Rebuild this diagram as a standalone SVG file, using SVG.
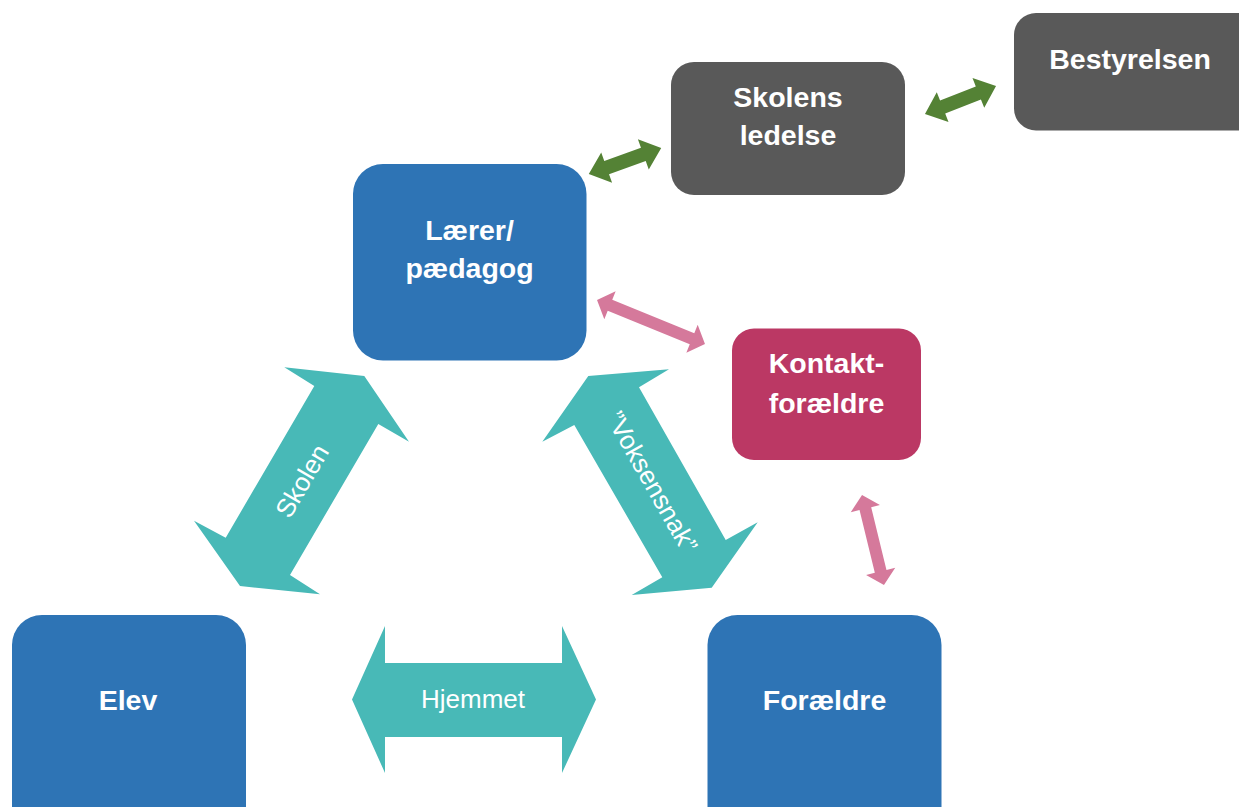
<svg xmlns="http://www.w3.org/2000/svg" width="1239" height="807" viewBox="0 0 1239 807">
<style>
.blue{fill:#2E74B5}
.gray{fill:#595959}
.mag{fill:#BB3864}
.teal{fill:#48B9B7}
.green{fill:#548235}
.pink{fill:#D5799B}
.lbl{font-family:"Liberation Sans",Arial,sans-serif;font-weight:bold;font-size:28.5px;fill:#FFFFFF;text-anchor:middle}
.al{font-family:"Liberation Sans",Arial,sans-serif;font-size:26px;fill:#FFFFFF;text-anchor:middle}
</style>
<rect width="1239" height="807" fill="#FFFFFF"/>
<g id="connectors">
  <g id="c-skolen">
    <polygon class="teal" points="284.3,367.3 364.3,376 409,441.7 378.3,424 290,575 320,594.3 240,586 194,520.7 225.7,537.7 314.3,386"/>
    <text class="al" transform="translate(302,481) rotate(-59.7)" y="9">Skolen</text>
  </g>
  <g id="c-voksensnak">
    <polygon class="teal" points="588.3,376 669,369.3 639,387.3 725.7,540 757.7,522.3 711.7,587.7 631.7,595 662.3,577.3 574.3,425 542.3,441.7"/>
    <text class="al" transform="translate(652,482) rotate(60.4)" y="9">”Voksensnak”</text>
  </g>
  <g id="c-hjemmet">
    <polygon class="teal" points="352,699.5 385,626 385,663 562,663 562,626 596,699.5 562,773 562,737 385,737 385,773"/>
    <text class="al" x="473" y="707.5">Hjemmet</text>
  </g>
  <polygon id="c-laerer-ledelse" class="green" transform="translate(625,161) rotate(-19.85)" points="-38.5,0 -19.5,-16 -19.5,-7 19.5,-7 19.5,-16 38.5,0 19.5,16 19.5,7 -19.5,7 -19.5,16"/>
  <polygon id="c-ledelse-bestyrelsen" class="green" transform="translate(960.5,100) rotate(-21.5)" points="-38.2,0 -19.2,-16 -19.2,-7 19.2,-7 19.2,-16 38.2,0 19.2,16 19.2,7 -19.2,7 -19.2,16"/>
  <polygon id="c-laerer-kontakt" class="pink" transform="translate(651,322) rotate(22.2)" points="-58.3,0 -44.3,-15 -44.3,-6 44.3,-6 44.3,-15 58.3,0 44.3,15 44.3,6 -44.3,6 -44.3,15"/>
  <polygon id="c-kontakt-foraeldre" class="pink" transform="translate(873,540) rotate(76.3)" points="-46.3,0 -32.3,-15 -32.3,-6 32.3,-6 32.3,-15 46.3,0 32.3,15 32.3,6 -32.3,6 -32.3,15"/>
</g>
<g id="n-laerer">
  <rect class="blue" x="353" y="164" width="233.5" height="196.5" rx="30"/>
  <text class="lbl" x="469.5" y="240">Lærer/</text>
  <text class="lbl" x="469.5" y="278">pædagog</text>
</g>
<g id="n-ledelse">
  <rect class="gray" x="671" y="62" width="234" height="133" rx="23"/>
  <text class="lbl" x="788" y="106.5">Skolens</text>
  <text class="lbl" x="788" y="145">ledelse</text>
</g>
<g id="n-bestyrelsen">
  <rect class="gray" x="1014" y="13" width="260" height="117.5" rx="22"/>
  <text class="lbl" x="1130" y="69">Bestyrelsen</text>
</g>
<g id="n-kontakt">
  <rect class="mag" x="732" y="328.5" width="189" height="131.5" rx="22"/>
  <text class="lbl" x="826.5" y="373">Kontakt-</text>
  <text class="lbl" x="826.5" y="412.5">forældre</text>
</g>
<g id="n-elev">
  <rect class="blue" x="12" y="615" width="234" height="230" rx="30"/>
  <text class="lbl" x="128" y="709.5">Elev</text>
</g>
<g id="n-foraeldre">
  <rect class="blue" x="707.5" y="615" width="234" height="230" rx="30"/>
  <text class="lbl" x="824.5" y="709.5">Forældre</text>
</g>
</svg>
